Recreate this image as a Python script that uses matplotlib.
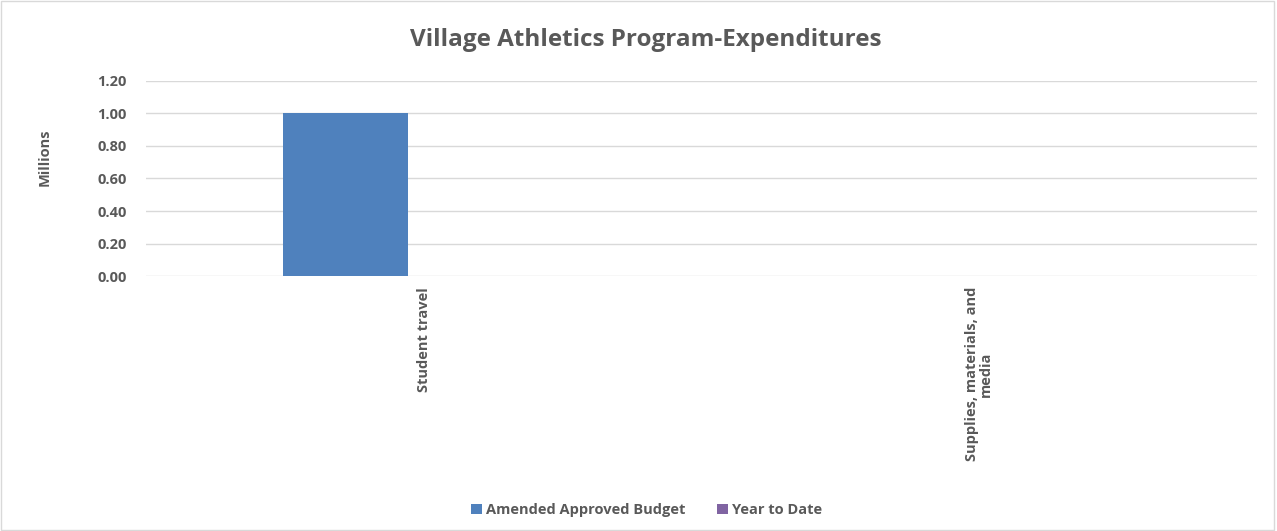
import matplotlib
matplotlib.use("Agg")
import matplotlib.pyplot as plt
from matplotlib.patches import Rectangle
import numpy as np

categories = ["Student travel", "Supplies, materials, and\nmedia"]
series_names = ["Amended Approved Budget", "Year to Date"]
amended = [1.00, 0.0]
year_to_date = [0.0, 0.0]
y_ticks = [0.0, 0.2, 0.4, 0.6, 0.8, 1.0, 1.2]

plt.rcParams['font.family'] = ['Open Sans', 'DejaVu Sans']
text_color = "#595959"
colors = ["#4F81BD", "#8064A2"]

fig = plt.figure(figsize=(12.77, 5.31), dpi=100)
fig.patches.append(Rectangle((0.001, 0.002), 0.997, 0.996, transform=fig.transFigure,
                             fill=False, edgecolor="#D9D9D9", linewidth=1.0))
ax = fig.add_axes([0.1143, 0.4802, 0.8697, 0.3673])

x = np.arange(len(categories))
width = 0.225
ax.bar(x - 0.14, amended, width, color=colors[0], label=series_names[0], zorder=3)
ax.bar(x + 0.085, year_to_date, width, color=colors[1], label=series_names[1], zorder=3)

ax.set_xlim(-0.5, len(categories) - 0.5)
ax.set_ylim(0, 1.2)
ax.set_yticks(y_ticks)
ax.set_yticklabels([f"{v:.2f}" for v in y_ticks], fontsize=10.5, fontweight="bold", color=text_color)
ax.set_xticks(x)
ax.set_xticklabels(categories, rotation=90, fontsize=10.5, color=text_color,
                   fontweight="bold", ha="center", va="top", multialignment="center",
                   linespacing=1.0)
ax.tick_params(axis="y", length=0, pad=14)
ax.tick_params(axis="x", length=0, pad=8)
ax.yaxis.grid(True, color="#D9D9D9", linewidth=1.0, zorder=0)
for s in ax.spines.values():
    s.set_visible(False)

ax.set_ylabel("Millions", fontsize=10.5, fontweight="bold", color=text_color, va="center")
ax.yaxis.set_label_coords(-0.091, 0.61)

fig.text(0.5055, 0.925, "Village Athletics Program-Expenditures", ha="center", va="center",
         fontsize=17.5, fontweight="bold", color=text_color)

handles, labels = ax.get_legend_handles_labels()
leg = fig.legend(handles, labels, loc="center", bbox_to_anchor=(0.5065, 0.04), ncol=2,
                 frameon=False, fontsize=10.5, handlelength=0.7, handleheight=0.7,
                 handletextpad=0.3, columnspacing=2.2)
for t in leg.get_texts():
    t.set_color(text_color)
    t.set_fontweight("bold")

fig.savefig("out.png", dpi=100)
